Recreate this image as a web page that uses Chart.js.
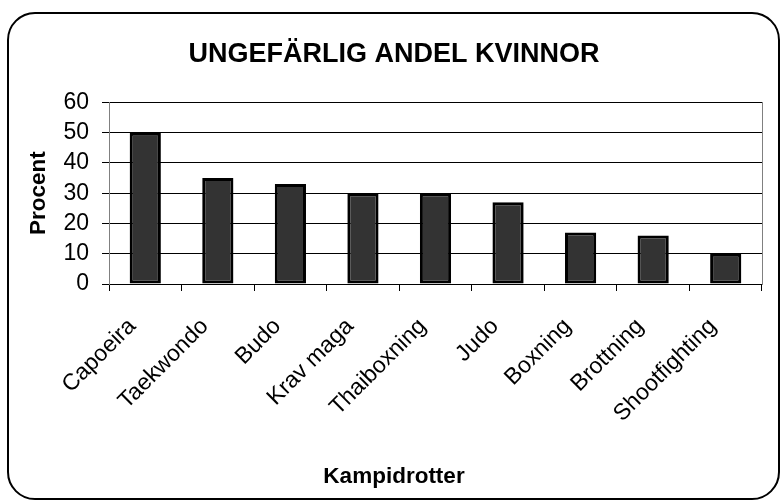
<!DOCTYPE html>
<html>
<head>
<meta charset="utf-8">
<script src="https://cdn.jsdelivr.net/npm/chart.js@4/dist/chart.umd.min.js"></script>
<style>
  body { margin: 0; background: #fff; }
  canvas { display: block; }
</style>
</head>
<body>
<canvas id="chart" width="780" height="500"></canvas>
<script>
// Data
const categories = ["Capoeira", "Taekwondo", "Budo", "Krav maga", "Thaiboxning", "Judo", "Boxning", "Brottning", "Shootfighting"];
const values = [50, 35, 33, 30, 30, 27, 17, 16, 10];
const yMin = 0;
const yMax = 60;
const yStep = 10;

const chartTitle = "UNGEFÄRLIG ANDEL KVINNOR";
const yTitle = "Procent";
const xTitle = "Kampidrotter";

const FONT = 'Arial, "Liberation Sans", sans-serif';

// white background + rounded outer frame
const framePlugin = {
    id: 'frame',
    beforeDraw(chart) {
        const ctx = chart.ctx;
        ctx.save();
        ctx.fillStyle = '#ffffff';
        ctx.fillRect(0, 0, chart.width, chart.height);
        ctx.restore();
    },
    afterDraw(chart) {
        const ctx = chart.ctx;
        ctx.save();
        ctx.strokeStyle = '#000000';
        ctx.lineWidth = 2;
        ctx.beginPath();
        ctx.roundRect(8, 13, 771, 486, 27);
        ctx.stroke();
        ctx.restore();
    }
};

const ctx = document.getElementById('chart').getContext('2d');
new Chart(ctx, {
    type: 'bar',
    data: {
        labels: categories,
        datasets: [{
            data: values,
            backgroundColor: '#333333',
            borderColor: '#000000',
            borderWidth: 3,
            borderSkipped: false,
            barPercentage: 0.43,
            categoryPercentage: 1
        }]
    },
    options: {
        responsive: false,
        animation: false,
        layout: { padding: { left: 8, right: 0, top: 0, bottom: 0 } },
        plugins: {
            legend: { display: false },
            tooltip: { enabled: false },
            title: {
                display: true,
                text: chartTitle,
                color: '#000',
                font: { family: FONT, size: 27, weight: 'bold' },
                padding: { top: 38, bottom: 32 }
            },
            subtitle: {
                display: true,
                position: 'bottom',
                text: xTitle,
                color: '#000',
                font: { family: FONT, size: 22.5, weight: 'bold' },
                padding: { top: 0, bottom: 10 }
            }
        },
        scales: {
            x: {
                grid: {
                    offset: true,
                    drawOnChartArea: false,
                    drawTicks: true,
                    tickLength: 7,
                    color: '#000'
                },
                border: { color: '#000', width: 1 },
                ticks: {
                    color: '#000',
                    font: { family: FONT, size: 23 },
                    minRotation: 45,
                    maxRotation: 45,
                    autoSkip: false,
                    padding: 22,
                    labelOffset: -13
                },
                afterFit(scale) { scale.height = 179; }
            },
            y: {
                min: yMin,
                max: yMax,
                ticks: {
                    stepSize: yStep,
                    autoSkip: false,
                    color: '#000',
                    font: { family: FONT, size: 23 },
                    padding: 13
                },
                grid: {
                    color: '#000',
                    tickLength: 7,
                    drawTicks: true
                },
                border: { color: '#808080', width: 1 },
                title: {
                    display: true,
                    text: yTitle,
                    color: '#000',
                    font: { family: FONT, size: 22.5, weight: 'bold' },
                    padding: { top: 17 }
                },
                afterFit(scale) { scale.width = 101; }
            },
            yRight: {
                position: 'right',
                min: yMin,
                max: yMax,
                ticks: { display: false },
                grid: { drawOnChartArea: false, drawTicks: false },
                border: { color: '#808080', width: 1 },
                afterFit(scale) { scale.width = 18; }
            }
        }
    },
    plugins: [framePlugin]
});
</script>
</body>
</html>
